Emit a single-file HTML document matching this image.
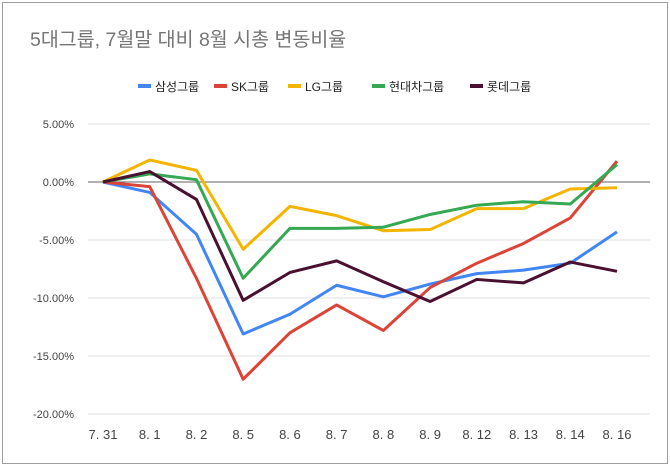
<!DOCTYPE html>
<html><head><meta charset="utf-8"><style>
body{margin:0;background:#fff;}
svg{display:block;font-family:"Liberation Sans","Noto Sans CJK KR",sans-serif;}
</style></head><body>
<svg id="chart" width="670" height="466" viewBox="0 0 670 466">
<rect x="2.5" y="2.5" width="665" height="461" fill="#fff" stroke="#9e9e9e" stroke-width="1"/>
<text x="30" y="46" font-size="19.5" fill="#757575">5대그룹, 7월말 대비 8월 시총 변동비율</text>
<g id="legend"></g>
<g id="grid"></g>
<g id="series"></g>
</svg>
<script>
const categories=["7. 31","8. 1","8. 2","8. 5","8. 6","8. 7","8. 8","8. 9","8. 12","8. 13","8. 14","8. 16"];
const yTicks=[5,0,-5,-10,-15,-20];
const yTickLabels=["5.00%","0.00%","-5.00%","-10.00%","-15.00%","-20.00%"];
const seriesNames=["삼성그룹","SK그룹","LG그룹","현대차그룹","롯데그룹"];
const samsung=[0,-0.9,-4.5,-13.1,-11.4,-8.9,-9.9,-8.8,-7.9,-7.6,-7.0,-4.3];
const sk=[0,-0.4,-8.3,-17.0,-13.0,-10.6,-12.8,-9.1,-7.0,-5.3,-3.1,1.8];
const lg=[0,1.9,1.0,-5.8,-2.1,-2.9,-4.2,-4.1,-2.3,-2.3,-0.6,-0.5];
const hyundai=[0,0.7,0.2,-8.3,-4.0,-4.0,-3.9,-2.8,-2.0,-1.7,-1.9,1.5];
const lotte=[0,0.9,-1.5,-10.2,-7.8,-6.8,-8.6,-10.3,-8.4,-8.7,-6.9,-7.7];
const colors=["#4285f4","#db4437","#f4b400","#34a853","#4a1030"];
const NS="http://www.w3.org/2000/svg";
const x=i=>103+i*(617-103)/(categories.length-1);
const y=v=>182-v*11.6;
function mk(t,a,p){const e=document.createElementNS(NS,t);for(const k in a)e.setAttribute(k,a[k]);p.appendChild(e);return e;}
const grid=document.getElementById('grid');
yTicks.forEach((t,i)=>{
 const l=mk('line',{x1:88,x2:650,y1:y(t),y2:y(t),stroke:t===0?'#616161':'#e0e0e0','stroke-width':1},grid);
 
 
 const tx=mk('text',{x:74,y:y(t)+4,'text-anchor':'end','font-size':11,fill:'#444'},grid);
 tx.textContent=yTickLabels[i];
 
 
});
categories.forEach((c,i)=>{
 const tx=mk('text',{x:x(i),y:439,'text-anchor':'middle','font-size':13,fill:'#444'},grid);
 tx.textContent=c;
 
 
});
const all=[samsung,sk,lg,hyundai,lotte];
const sg=document.getElementById('series');
all.forEach((s,k)=>{
 const p=mk('polyline',{points:s.map((v,i)=>x(i)+','+y(v)).join(' '),fill:'none',stroke:colors[k],'stroke-width':3,'stroke-linejoin':'round'},sg);
 
 
});
const lg2=document.getElementById('legend');
const lx=[138,214,288,372,470];
seriesNames.forEach((n,k)=>{
 const r=mk('rect',{x:lx[k],y:84,width:13,height:4,fill:colors[k]},lg2);
 
 
 const t=mk('text',{x:lx[k]+17,y:91,'font-size':12,fill:'#222'},lg2);
 t.textContent=n;
 
 
});
</script>
</body></html>
